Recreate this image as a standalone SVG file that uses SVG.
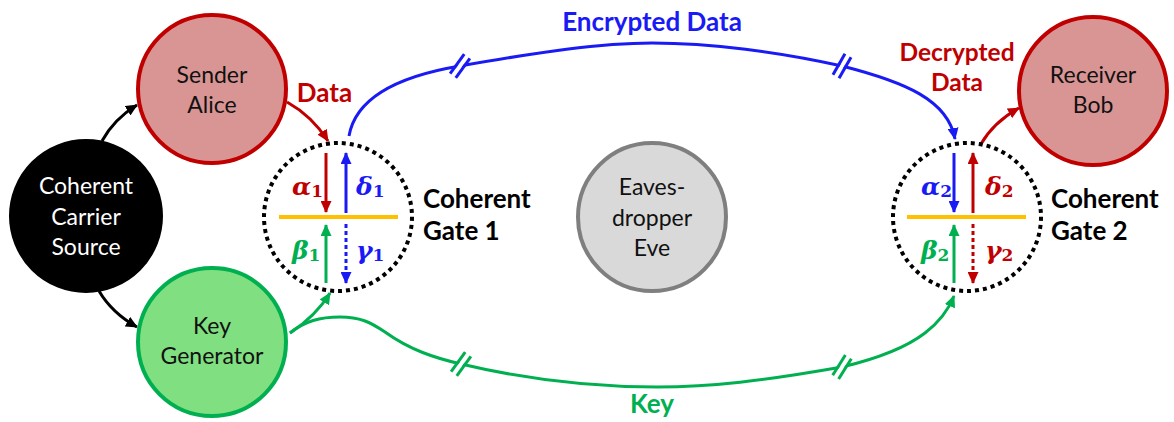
<svg xmlns="http://www.w3.org/2000/svg" width="1174" height="422" viewBox="0 0 1174 422">
  <style>
    .node { stroke-width: 4; }
    .lbl { font-family: Lato, "Open Sans", sans-serif; font-size: 23px; text-anchor: middle; fill: #111; }
    .bold { font-family: Lato, "Open Sans", sans-serif; font-size: 26px; font-weight: bold; }
    .gk { font-family: "DejaVu Serif", "Liberation Serif", serif; font-size: 25px; font-weight: bold; font-style: italic; }
    .sub { font-size: 17px; font-style: normal; }
    .wire { fill: none; stroke-width: 3; }
    .gate { fill: none; stroke: #000; stroke-width: 4; stroke-dasharray: 4 4; }
    .split { stroke: #FFC000; stroke-width: 4; }
    .dot { stroke-dasharray: 4 3; }
    .red { stroke: #C00000; }
    .blue { stroke: #1A1AF5; }
    .green { stroke: #00B050; }
    .black { stroke: #000; }
  </style>
  <defs>
    <marker id="ah-red" viewBox="0 0 12 11" refX="11" refY="5.5" markerWidth="12" markerHeight="11" markerUnits="userSpaceOnUse" orient="auto">
      <path d="M0,0 L12,5.5 L0,11 z" fill="#C00000"/>
    </marker>
    <marker id="ah-blue" viewBox="0 0 12 11" refX="11" refY="5.5" markerWidth="12" markerHeight="11" markerUnits="userSpaceOnUse" orient="auto">
      <path d="M0,0 L12,5.5 L0,11 z" fill="#1A1AF5"/>
    </marker>
    <marker id="ah-green" viewBox="0 0 12 11" refX="11" refY="5.5" markerWidth="12" markerHeight="11" markerUnits="userSpaceOnUse" orient="auto">
      <path d="M0,0 L12,5.5 L0,11 z" fill="#00B050"/>
    </marker>
    <marker id="ah-black" viewBox="0 0 12 11" refX="11" refY="5.5" markerWidth="12" markerHeight="11" markerUnits="userSpaceOnUse" orient="auto">
      <path d="M0,0 L12,5.5 L0,11 z" fill="#000"/>
    </marker>
    <!-- line-break symbol: white gap with two slanted strokes -->
    <g id="brk">
      <rect x="-2" y="-9" width="4" height="18" fill="#fff" stroke="none"/>
      <line x1="-3.5" y1="-12" x2="-3.5" y2="12" stroke-width="3"/>
      <line x1="3.5" y1="-12" x2="3.5" y2="12" stroke-width="3"/>
    </g>
  </defs>

  <rect width="1174" height="422" fill="#fff"/>

  <g id="connectors">
    <!-- carrier source to sender / key generator -->
    <path class="wire black" d="M102,141 Q114,119 137,105" marker-end="url(#ah-black)"/>
    <path class="wire black" d="M99,291 Q112,313 137,327" marker-end="url(#ah-black)"/>
    <!-- data into gate 1 -->
    <path class="wire red" d="M287,102 Q312,116 328,141" marker-end="url(#ah-red)"/>
    <!-- encrypted channel -->
    <path class="wire blue" d="M349,136 C356,96 400,76 460,66 C540,52 600,43 652,43 C710,43 780,52 842,66 C905,82 948,100 955,139" marker-end="url(#ah-blue)"/>
    <use href="#brk" class="blue" transform="translate(460,66) rotate(36)"/>
    <use href="#brk" class="blue" transform="translate(842,66) rotate(30)"/>
    <!-- decrypted data to receiver -->
    <path class="wire red" d="M981,144 Q994,122 1019,108" marker-end="url(#ah-red)"/>
    <!-- key to gate 1 -->
    <path class="wire green" d="M290,333 Q316,316 330,293" marker-end="url(#ah-green)"/>
    <!-- key channel to gate 2 -->
    <path class="wire green" d="M290,333 C305,321 320,317 340,317 C360,317 370,322 385,332 C410,350 435,358 461,364 C520,378 590,387 657,387 C712,387 762,381 842,367 C880,358 908,346 925,333 C942,320 950,306 954,296" marker-end="url(#ah-green)"/>
    <use href="#brk" class="green" transform="translate(461,364) rotate(36)"/>
    <use href="#brk" class="green" transform="translate(842,367) rotate(32)"/>
  </g>

  <g id="source">
    <circle cx="86" cy="216" r="75" fill="#000" stroke="#000" class="node"/>
    <text class="lbl" style="fill:#fff" x="86" y="194">Coherent</text>
    <text class="lbl" style="fill:#fff" x="86" y="225">Carrier</text>
    <text class="lbl" style="fill:#fff" x="86" y="255">Source</text>
  </g>

  <g id="alice">
    <circle cx="212" cy="89" r="74" fill="#D99594" stroke="#C00000" class="node"/>
    <text class="lbl" x="212" y="83">Sender</text>
    <text class="lbl" x="212" y="113">Alice</text>
  </g>

  <g id="keygen">
    <circle cx="212" cy="342" r="74" fill="#80DF80" stroke="#00B050" class="node"/>
    <text class="lbl" x="212" y="334">Key</text>
    <text class="lbl" x="212" y="364">Generator</text>
  </g>

  <g id="eve">
    <circle cx="652" cy="217" r="74" fill="#D9D9D9" stroke="#7F7F7F" class="node"/>
    <text class="lbl" x="652" y="195">Eaves-</text>
    <text class="lbl" x="652" y="226">dropper</text>
    <text class="lbl" x="652" y="256">Eve</text>
  </g>

  <g id="bob">
    <circle cx="1093" cy="91" r="74" fill="#D99594" stroke="#C00000" class="node"/>
    <text class="lbl" x="1093" y="83">Receiver</text>
    <text class="lbl" x="1093" y="113">Bob</text>
  </g>

  <g id="gate1">
    <circle class="gate" cx="338" cy="217" r="74"/>
    <line class="split" x1="279" y1="217" x2="398" y2="217"/>
    <line class="wire red" x1="326" y1="153" x2="326" y2="212" marker-end="url(#ah-red)"/>
    <line class="wire blue" x1="346" y1="213" x2="346" y2="153" marker-end="url(#ah-blue)"/>
    <line class="wire blue dot" x1="346" y1="224" x2="346" y2="283" marker-end="url(#ah-blue)"/>
    <line class="wire green" x1="326" y1="283" x2="326" y2="225" marker-end="url(#ah-green)"/>
    <text class="gk" x="292" y="195" fill="#C00000">α<tspan class="sub" dy="2">1</tspan></text>
    <text class="gk" x="356" y="195" fill="#1A1AF5">δ<tspan class="sub" dy="2">1</tspan></text>
    <text class="gk" x="292" y="259" fill="#00B050">β<tspan class="sub" dy="2">1</tspan></text>
    <text class="gk" x="356" y="259" fill="#1A1AF5">γ<tspan class="sub" dy="2">1</tspan></text>
    <text class="bold" x="423" y="208" fill="#000">Coherent<tspan x="423" dy="32">Gate 1</tspan></text>
  </g>

  <g id="gate2">
    <circle class="gate" cx="967" cy="217" r="74"/>
    <line class="split" x1="907" y1="217" x2="1026" y2="217"/>
    <line class="wire blue" x1="954" y1="153" x2="954" y2="212" marker-end="url(#ah-blue)"/>
    <line class="wire red" x1="973" y1="213" x2="973" y2="153" marker-end="url(#ah-red)"/>
    <line class="wire red dot" x1="973" y1="224" x2="973" y2="283" marker-end="url(#ah-red)"/>
    <line class="wire green" x1="954" y1="283" x2="954" y2="225" marker-end="url(#ah-green)"/>
    <text class="gk" x="921" y="195" fill="#1A1AF5">α<tspan class="sub" dy="2">2</tspan></text>
    <text class="gk" x="985" y="195" fill="#C00000">δ<tspan class="sub" dy="2">2</tspan></text>
    <text class="gk" x="921" y="259" fill="#00B050">β<tspan class="sub" dy="2">2</tspan></text>
    <text class="gk" x="985" y="259" fill="#C00000">γ<tspan class="sub" dy="2">2</tspan></text>
    <text class="bold" x="1051" y="208" fill="#000">Coherent<tspan x="1051" dy="32">Gate 2</tspan></text>
  </g>

  <g id="labels">
    <text class="bold" x="324.5" y="102" text-anchor="middle" fill="#C00000">Data</text>
    <text class="bold" x="652" y="31" text-anchor="middle" fill="#1A1AF5">Encrypted Data</text>
    <text class="bold" x="957" y="61" text-anchor="middle" fill="#C00000" style="font-size:24.5px">Decrypted<tspan x="957" dy="30">Data</tspan></text>
    <text class="bold" x="652" y="413" text-anchor="middle" fill="#00B050">Key</text>
  </g>
</svg>
